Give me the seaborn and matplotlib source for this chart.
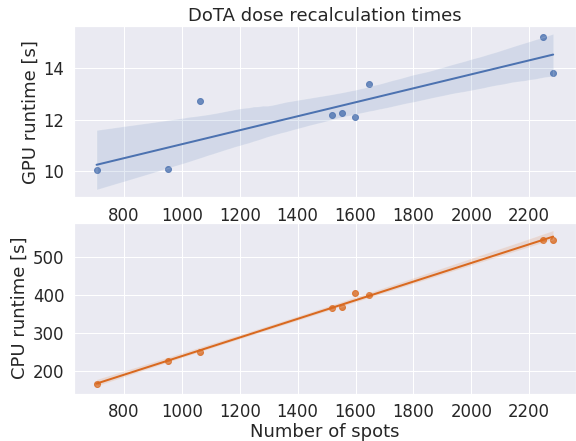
import numpy as np
import pandas as pd
import seaborn as sns
import matplotlib
matplotlib.use("Agg")
import matplotlib.pyplot as plt

n_spots = [705, 953, 1064, 1518, 1553, 1598, 1645, 2247, 2283]
gpu_runtime = [10.04, 10.1, 12.71, 12.2, 12.24, 12.1, 13.4, 15.22, 13.8]
cpu_runtime = [166, 225, 249, 366, 368, 406, 401, 546, 546]

df = pd.DataFrame({"spots": n_spots, "gpu": gpu_runtime, "cpu": cpu_runtime})

sns.set_theme(style="darkgrid", font_scale=1.5)

fig, (ax1, ax2) = plt.subplots(2, 1, figsize=(8, 6.125), dpi=72)
fig.subplots_adjust(left=0.128, right=1.0, top=0.941, bottom=0.107, hspace=0.148)

blue = sns.color_palette("deep")[0]
orange = "#d9691f"

sns.regplot(data=df, x="spots", y="gpu", ax=ax1, color=blue,
            line_kws={"lw": 2})
ax1.set_title("DoTA dose recalculation times", pad=5)
ax1.set_xlabel("")
ax1.set_ylabel("GPU runtime [s]")

sns.regplot(data=df, x="spots", y="cpu", ax=ax2, color=orange,
            line_kws={"lw": 2})
ax2.set_xlabel("Number of spots", labelpad=2)
ax2.set_ylabel("CPU runtime [s]")

fig.savefig("out.png", dpi=72)
